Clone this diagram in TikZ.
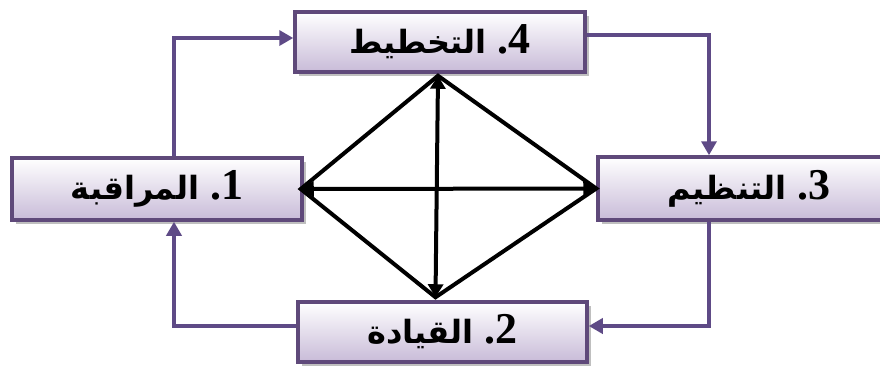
\documentclass[tikz,border=0pt]{standalone}
\usepackage{fontspec}
\setmainfont{Liberation Serif}
\newfontfamily\arfont[Script=Arabic]{DejaVu Sans}
\TeXXeTstate=1
\usetikzlibrary{arrows.meta,shadows,calc}
\definecolor{pborder}{HTML}{5F497A}
\definecolor{pline}{HTML}{5E4A86}
\definecolor{pfill}{HTML}{C8BBD8}
\newcommand\boxlabel[2]{{\arfont\fontsize{32}{36}\selectfont\bfseries\beginR #2\endR}\hspace{11pt}.#1}
\begin{document}
\begin{tikzpicture}[x=1pt,y=-1pt,
  box/.style={draw=pborder, line width=3.5pt, top color=white, bottom color=pfill,
    inner sep=0pt, drop shadow={shadow xshift=3.5pt,shadow yshift=-3.5pt,fill=gray!50,opacity=1},
    font=\fontsize{44}{48}\selectfont\bfseries},
  parrow/.style={draw=pline, line width=3.5pt, -{Triangle[width=15pt,length=14pt]}},
  barrow/.style={draw=black, line width=4pt, {Triangle[width=15pt,length=13pt]}-{Triangle[width=15pt,length=13pt]}},
  bline/.style={draw=black, line width=4pt, line join=miter}]
\useasboundingbox (0,0) rectangle (880,368);
\clip (0,0) rectangle (880,368);
\fill[white] (0,0) rectangle (880,368);
\node[box, minimum width=290pt, minimum height=60pt] (b4) at (440,42) {\boxlabel{4}{التخطيط}};
\node[box, minimum width=290pt, minimum height=62pt] (b1) at (157,189) {\boxlabel{1}{المراقبة}};
\node[box, minimum width=302pt, minimum height=63pt] (b3) at (749,188.5) {\boxlabel{3}{التنظيم}};
\node[box, minimum width=289pt, minimum height=60pt] (b2) at (442.5,332) {\boxlabel{2}{القيادة}};
% inner diamond
\coordinate (T) at ([xshift=-2pt,yshift=-2pt]b4.south);
\coordinate (B) at ([xshift=-7pt,yshift=3pt]b2.north);
\coordinate (L) at ([xshift=-3pt]b1.east);
\coordinate (R) at (b3.west);
\draw[bline] (T) -- (R) -- (B) -- (L) -- cycle;
\draw[barrow] (T) -- (B);
\draw[barrow] (L) -- (R);
% outer cycle
\draw[parrow] ([xshift=17pt]b1.north) |- ([yshift=4pt]b4.west);
\draw[parrow] ([yshift=7pt]b4.east) -| ([xshift=-40pt]b3.north);
\draw[parrow] ([xshift=-40pt]b3.south) |- ([yshift=6pt]b2.east);
\draw[parrow] ([yshift=6pt]b2.west) -| ([xshift=17pt]b1.south);
\end{tikzpicture}
\end{document}
